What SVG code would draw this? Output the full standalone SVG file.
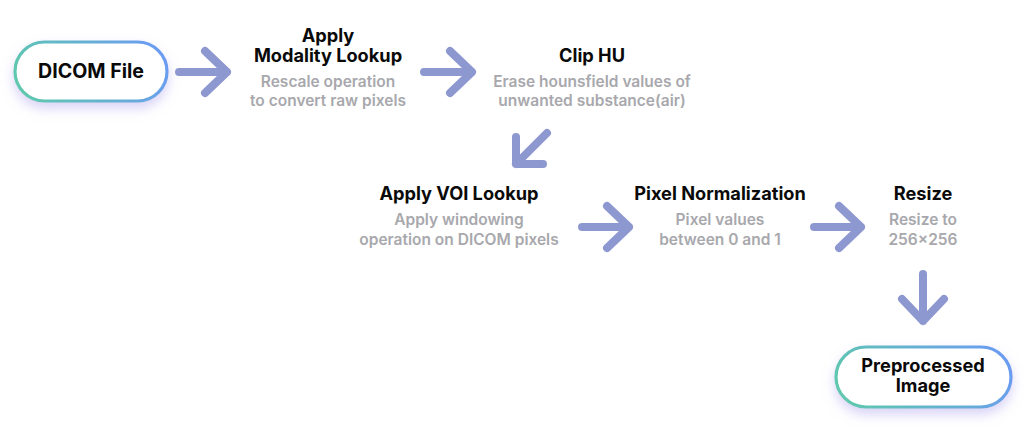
<svg xmlns="http://www.w3.org/2000/svg" width="1024" height="441" viewBox="0 0 1024 441">
<defs>
<linearGradient id="pillGrad" x1="0" y1="0.6" x2="1" y2="0.4">
<stop offset="0" stop-color="#5ec8ae"/>
<stop offset="1" stop-color="#6a9cf0"/>
</linearGradient>
<filter id="shadow" x="-20%" y="-30%" width="140%" height="180%">
<feDropShadow dx="0" dy="6" stdDeviation="6" flood-color="#b9b0f0" flood-opacity="0.55"/>
</filter>
<style>
.pill{fill:#ffffff;stroke:url(#pillGrad);stroke-width:3.2}
.title{font-family:Inter,"Liberation Sans",sans-serif;font-weight:700;font-size:18.2px;fill:#0a0a0a;text-anchor:middle}
.sub{font-family:Inter,"Liberation Sans",sans-serif;font-weight:600;font-size:15.5px;fill:#a8a8ad;text-anchor:middle}
.arrow{fill:none;stroke:#8e98d0;stroke-width:8;stroke-linecap:round;stroke-linejoin:round}
</style>
</defs>
<rect width="1024" height="441" fill="#ffffff"/>
<g id="dicom">
<rect class="pill" x="15" y="42" width="152" height="59" rx="29.5" filter="url(#shadow)"/>
<text class="title" x="91" y="78" style="font-size:19.6px">DICOM File</text>
</g>
<g id="modality">
<text class="title" x="328" y="42">Apply</text>
<text class="title" x="328" y="62">Modality Lookup</text>
<text class="sub" x="328" y="87">Rescale operation</text>
<text class="sub" x="328" y="106">to convert raw pixels</text>
</g>
<g id="clip">
<text class="title" x="592" y="62">Clip HU</text>
<text class="sub" x="592" y="87">Erase hounsfield values of</text>
<text class="sub" x="592" y="106">unwanted substance(air)</text>
</g>
<g id="voi">
<text class="title" x="459" y="200">Apply VOI Lookup</text>
<text class="sub" x="459" y="225">Apply windowing</text>
<text class="sub" x="459" y="245">operation on DICOM pixels</text>
</g>
<g id="norm">
<text class="title" x="720" y="200">Pixel Normalization</text>
<text class="sub" x="720" y="225">Pixel values</text>
<text class="sub" x="720" y="245">between 0 and 1</text>
</g>
<g id="resize">
<text class="title" x="923" y="200">Resize</text>
<text class="sub" x="923" y="225">Resize to</text>
<text class="sub" x="923" y="245">256×256</text>
</g>
<g id="preprocessed">
<rect class="pill" x="836" y="347" width="175" height="60" rx="30" filter="url(#shadow)"/>
<text class="title" x="923" y="372">Preprocessed</text>
<text class="title" x="923" y="392">Image</text>
</g>
<g id="connectors">
<path class="arrow" d="M179 72 H227 M205 51 L227 72 L205 93"/>
<path class="arrow" d="M424 72 H472 M450 51 L472 72 L450 93"/>
<path class="arrow" d="M547 133 L516 164 M516 137 V164 H543"/>
<path class="arrow" d="M582 227 H629 M607 206 L629 227 L607 248"/>
<path class="arrow" d="M814 227 H861 M839 206 L861 227 L839 248"/>
<path class="arrow" d="M923 274 V321 M902 299 L923 321 L944 299"/>
</g>
</svg>
